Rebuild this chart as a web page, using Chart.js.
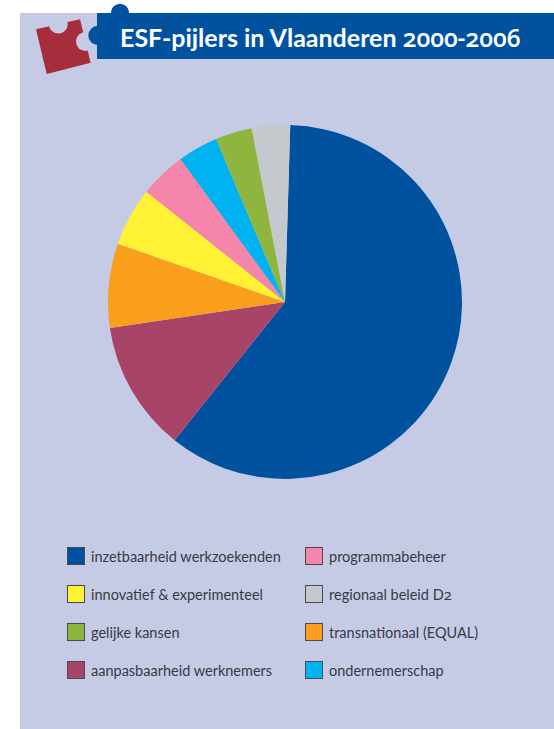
<!DOCTYPE html>
<html lang="nl">
<head>
<meta charset="utf-8">
<title>ESF-pijlers in Vlaanderen 2000-2006</title>
<script src="https://cdn.jsdelivr.net/npm/chart.js@4"></script>
<style>
  html, body { margin: 0; padding: 0; background: #fff; }
  #page { position: relative; width: 554px; height: 729px; overflow: hidden; font-family: "Lato", sans-serif; }
  #panel { position: absolute; left: 20px; top: 13px; width: 534px; height: 716px; background: #c5cbe5; }
  #deco { position: absolute; left: 0; top: 0; }
  #title { position: absolute; left: 120px; top: 21px; margin: 0; font-size: 25px; line-height: 32px; font-weight: 700; color: #fff; white-space: nowrap; }
  .num { font-family: "Open Sans", sans-serif; font-feature-settings: "onum" 1; font-variant-numeric: oldstyle-nums; }
  #title .num { font-size: 24.5px; font-weight: 600; }
  #pie { position: absolute; left: 95px; top: 112px; }
  .item { position: absolute; height: 19px; line-height: 19px; font-size: 14.5px; color: #3a3946; white-space: nowrap; padding-left: 24px; }
  .item i { position: absolute; left: 0; top: 0; width: 16px; height: 16px; border: 1.5px solid #4a4a55; }
</style>
</head>
<body>
<div id="page">
  <div id="panel"></div>
  <svg id="deco" width="554" height="80">
    <polygon points="36,29.3 80,19.3 90.7,62.7 46.7,74" fill="#a62d3b"/>
    <circle cx="58.3" cy="24" r="9.5" fill="#c5cbe5"/>
    <circle cx="85.5" cy="41.5" r="9.5" fill="#c5cbe5"/>
    <rect x="97" y="13" width="457" height="46" fill="#00529f"/>
    <circle cx="120" cy="13" r="9.2" fill="#00529f"/>
    <circle cx="98" cy="35.5" r="9.7" fill="#00529f"/>
  </svg>
  <h1 id="title">ESF-pijlers in Vlaanderen <span class="num">2000-2006</span></h1>
  <canvas id="pie" width="380" height="380"></canvas>
  <div id="legend"></div>
</div>
<script>
  const labels = ["inzetbaarheid werkzoekenden", "aanpasbaarheid werknemers", "transnationaal (EQUAL)", "innovatief & experimenteel", "programmabeheer", "ondernemerschap", "gelijke kansen", "regionaal beleid D2"];
  const shares = [60.25, 11.94, 7.67, 5.36, 4.25, 3.69, 3.35, 3.49];
  const colours = ["#00529f", "#a84468", "#fa9f1c", "#fff133", "#f585aa", "#00b2ef", "#8eb53e", "#c5c8cc"];
  const legendOrder = [0, 4, 3, 7, 6, 2, 1, 5];

  new Chart(document.getElementById("pie"), {
    type: "pie",
    data: { labels, datasets: [{ data: shares, backgroundColor: colours, borderWidth: 0 }] },
    options: {
      responsive: false, animation: false, radius: 177, rotation: 1.7,
      layout: { padding: 0 },
      plugins: { legend: { display: false }, tooltip: { enabled: false } },
    },
  });

  // legend in two columns, filled row by row
  const legend = document.getElementById("legend");
  legendOrder.forEach((idx, n) => {
    const el = document.createElement("div");
    el.className = "item";
    el.style.left = (n % 2 ? 305 : 67) + "px";
    el.style.top = (547 + 37.9 * Math.floor(n / 2)) + "px";
    el.innerHTML = `<i style="background:${colours[idx]}"></i>`;
    const m = labels[idx].match(/^(.*D)(2)$/);
    if (m) {
      el.appendChild(document.createTextNode(m[1]));
      const s = document.createElement("span");
      s.className = "num";
      s.textContent = m[2];
      el.appendChild(s);
    } else {
      el.appendChild(document.createTextNode(labels[idx]));
    }
    legend.appendChild(el);
  });
</script>
</body>
</html>
